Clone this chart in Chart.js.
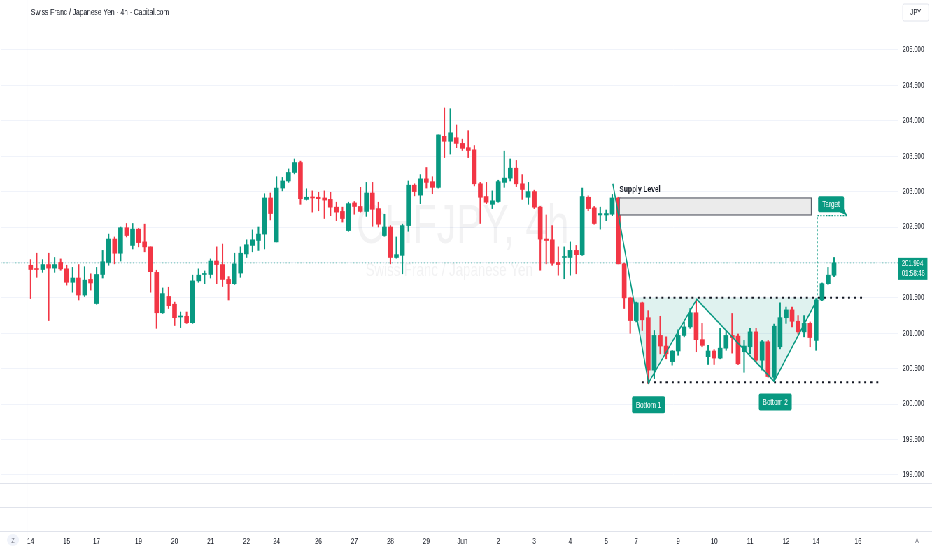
<!DOCTYPE html>
<html>
<head>
<meta charset="utf-8">
<script src="https://cdn.jsdelivr.net/npm/chart.js@4.4.1/dist/chart.umd.min.js"></script>
<style>
  html, body { margin: 0; padding: 0; background: #fff; overflow: hidden; }
  /* the screenshot is squeezed sideways, so the whole chart is drawn wide and scaled down */
  #wrap { width: 1332px; height: 550px; transform: scaleX(0.6997); transform-origin: 0 0; background: #fff; }
</style>
</head>
<body>
<div id="wrap"><canvas id="chart"></canvas></div>
<script>
// CHFJPY 4h candles
const open = [
  201.96,201.91,201.90,201.97,201.92,202.00,201.91,201.72,201.78,201.54,
  201.76,201.42,201.83,202.00,202.33,202.13,202.49,202.24,202.47,202.29,
  202.22,201.86,201.29,201.52,201.41,201.23,201.24,201.15,201.74,201.83,
  201.83,202.02,201.97,201.76,201.70,201.85,202.12,202.24,202.31,202.40,
  202.91,202.29,203.05,203.15,203.27,203.41,202.89,202.92,202.92,202.91,
  202.89,202.78,202.72,202.45,202.84,202.79,202.72,202.98,202.76,202.38,
  202.50,202.07,202.10,202.52,203.09,202.95,203.18,203.14,203.06,203.78,
  203.71,203.76,203.68,203.62,203.59,203.11,202.93,202.82,202.86,203.13,
  203.19,203.33,203.11,202.92,203.00,202.78,202.33,202.32,202.00,202.07,
  202.07,202.17,202.11,202.92,202.77,202.67,202.67,202.68,202.91,201.98,
  201.50,201.18,201.43,201.22,200.48,200.97,200.82,200.60,200.75,200.97,
  201.09,201.29,200.91,200.67,200.75,200.65,200.79,200.97,200.96,200.74,
  200.81,201.02,200.62,200.88,200.38,200.81,201.22,201.33,201.17,201.02,
  201.14,200.90,201.47,201.70,201.82
];
const high = [
  202.04,202.13,202.04,202.13,202.07,202.05,201.96,201.93,201.97,201.94,
  201.84,201.93,202.17,202.40,202.36,202.50,202.55,202.55,202.48,202.54,
  202.22,201.89,201.64,201.65,201.44,201.30,201.30,201.82,201.91,201.88,
  202.05,202.22,202.26,201.80,202.13,202.22,202.32,202.46,202.50,202.97,
  202.98,203.21,203.20,203.32,203.46,203.43,203.04,203.01,202.99,203.01,
  202.99,202.85,202.78,202.85,202.86,203.06,203.13,203.13,202.85,202.68,
  202.52,202.36,202.54,203.15,203.11,203.24,203.34,203.21,203.80,204.18,
  204.17,203.94,203.74,203.86,203.65,203.13,203.13,203.01,203.16,203.57,
  203.46,203.44,203.24,203.13,203.02,202.79,202.67,202.52,202.22,202.22,
  202.29,202.24,203.05,202.94,202.79,202.78,202.74,202.96,202.92,201.99,
  201.51,201.44,201.44,201.32,201.04,201.24,200.95,200.76,201.05,201.16,
  201.35,201.47,201.14,200.83,200.77,201.07,201.04,201.28,200.99,200.90,
  201.07,201.07,200.90,200.90,201.13,201.43,201.37,201.37,201.25,201.25,
  201.16,201.49,201.71,201.93,202.07
];
const low = [
  201.49,201.79,201.86,201.18,201.86,201.89,201.68,201.58,201.47,201.52,
  201.61,201.41,201.78,201.96,201.98,202.02,202.36,202.19,202.22,202.15,
  201.58,201.07,201.28,201.35,201.11,201.08,201.14,201.14,201.72,201.70,
  201.78,201.70,201.66,201.47,201.69,201.79,202.07,202.15,202.17,202.19,
  202.60,202.29,203.01,203.13,203.25,202.82,202.88,202.71,202.73,202.62,
  202.66,202.59,202.57,202.44,202.68,202.71,202.65,202.51,202.50,202.37,
  201.98,202.06,201.84,202.44,202.94,202.83,203.05,202.97,203.05,203.48,
  203.53,203.62,203.58,203.48,203.08,202.55,202.83,202.76,202.85,203.06,
  203.15,203.07,202.89,202.82,202.76,201.89,201.98,201.96,201.82,201.77,
  201.82,201.84,202.10,202.73,202.54,202.47,202.59,202.66,201.98,201.35,
  201.00,201.16,201.04,200.29,200.36,200.71,200.64,200.55,200.69,200.95,
  201.07,200.74,200.81,200.56,200.56,200.64,200.76,200.72,200.56,200.45,
  200.71,200.60,200.48,200.38,200.34,200.78,201.14,201.09,200.99,200.95,
  200.81,200.76,201.46,201.69,201.80
];
const close = [
  201.90,201.90,201.97,201.92,201.97,201.91,201.72,201.78,201.54,201.75,
  201.71,201.83,202.01,202.33,202.13,202.49,202.38,202.47,202.28,202.22,
  201.87,201.29,201.56,201.39,201.22,201.24,201.15,201.74,201.82,201.84,
  202.02,201.97,201.76,201.70,201.98,202.13,202.25,202.32,202.40,202.91,
  202.69,203.05,203.15,203.27,203.41,202.90,202.92,202.91,202.90,202.88,
  202.78,202.71,202.62,202.83,202.79,202.72,202.98,202.75,202.54,202.50,
  202.07,202.11,202.52,203.09,203.00,203.18,203.13,203.06,203.80,203.71,
  203.83,203.68,203.61,203.58,203.11,202.92,202.85,202.87,203.14,203.19,
  203.33,203.11,203.03,203.00,202.78,202.33,202.31,201.99,201.97,202.08,
  202.17,202.11,202.93,202.76,202.55,202.69,202.69,202.91,201.98,201.50,
  201.18,201.43,201.19,200.48,200.97,200.82,200.71,200.75,200.97,201.09,
  201.29,200.91,200.83,200.75,200.65,200.79,200.97,200.94,200.57,200.82,
  201.02,200.62,200.88,200.39,201.10,201.22,201.33,201.17,201.02,201.14,
  200.94,201.47,201.70,201.82,201.994
];

// time axis: candle index of each day label
const dayTickIdx = [0, 6, 11, 18, 24, 30, 36, 41, 48, 54, 60, 66, 72, 78, 84, 90, 96, 101, 108, 114, 120, 126, 131, 138];
const dayTickText = ['14','15','17','19','20','21','22','24','26','27','28','29','Jun','2','3','4','5','7','9','10','11','12','14','16'];
const priceTicks = [199, 199.5, 200, 200.5, 201, 201.5, 202, 202.5, 203, 203.5, 204, 204.5, 205];

// drawings on the chart (candle index, price)
const wPatternX = [97.1, 103.05, 111.1, 124.0, 131.2];
const wPatternY = [203.11, 200.30, 201.48, 200.32, 201.48];
const necklineX = [102.2, 139.2];
const necklinePrice = 201.50;
const bottomLineX = [101.9, 142.0];
const bottomLinePrice = 200.31;
const targetX = [131.2, 136.2];
const targetPrice = 202.66;
const supplyX = [98.2, 130.2];
const supplyPrice = [202.91, 202.67];
const supplyTextPrice = 203.035;
const labelText = ['Bottom 1', 'Bottom 2', 'Target'];
const labelX = [103.05, 124.2, 133.5];
const labelPrice = [199.99, 200.03, 202.82];

const S = 0.6997;
const UP = '#089981';
const DOWN = '#f23645';
const INK = '#131722';
const LINE = '#e0e3eb';
const FONT = "'Liberation Sans', Arial, sans-serif";
Chart.defaults.font.family = FONT;

const idx = open.map((_, i) => i);
const candleColor = idx.map(i => close[i] >= open[i] ? UP : DOWN);
const lastClose = close[close.length - 1];

// where the first leg of the W crosses the neckline, start of the shaded area
const k = (wPatternY[0] - wPatternY[2]) / (wPatternY[0] - wPatternY[1]);
const fillStartX = wPatternX[0] + k * (wPatternX[1] - wPatternX[0]);
const fillPts = [{ x: fillStartX, y: wPatternY[2] }].concat(
  wPatternX.slice(1).map((x, i) => ({ x: x, y: wPatternY[i + 1] })));

function noPad(s) {
  s.paddingLeft = 0; s.paddingRight = 0; s.paddingTop = 0; s.paddingBottom = 0;
}

const chrome = {
  id: 'chrome',
  beforeDraw(chart) {
    const { ctx, width, height } = chart;
    ctx.save();
    ctx.fillStyle = '#fff';
    ctx.fillRect(0, 0, width, height);
    ctx.restore();
  },
  beforeDatasetsDraw(chart) {
    const { ctx, chartArea: a } = chart;
    ctx.save();
    ctx.fillStyle = 'rgba(19,23,34,0.055)';
    ctx.textAlign = 'center';
    ctx.textBaseline = 'middle';
    ctx.font = '56px ' + FONT;
    ctx.fillText('CHFJPY, 4h', a.left + a.width * 0.515, 228);
    ctx.font = '19px ' + FONT;
    ctx.fillText('Swiss Franc / Japanese Yen', a.left + a.width * 0.5, 271);
    ctx.restore();
  },
  afterDatasetsDraw(chart) {
    const { ctx } = chart;
    const xs = chart.scales.x, ys = chart.scales.y;
    ctx.save();
    // supply zone
    const sx0 = xs.getPixelForValue(supplyX[0]), sx1 = xs.getPixelForValue(supplyX[1]);
    const sy0 = ys.getPixelForValue(supplyPrice[0]), sy1 = ys.getPixelForValue(supplyPrice[1]);
    ctx.fillStyle = '#ebebeb';
    ctx.fillRect(sx0, sy0, sx1 - sx0, sy1 - sy0);
    ctx.strokeStyle = '#5d606b';
    ctx.lineWidth = 1.2;
    ctx.strokeRect(sx0, sy0, sx1 - sx0, sy1 - sy0);
    ctx.fillStyle = INK;
    ctx.font = 'bold 9.5px ' + FONT;
    ctx.textAlign = 'left';
    ctx.textBaseline = 'middle';
    ctx.fillText('Supply Level', sx0, ys.getPixelForValue(supplyTextPrice));

    // green note labels
    labelText.forEach((t, i) => {
      const cx = xs.getPixelForValue(labelX[i]);
      const cy = ys.getPixelForValue(labelPrice[i]);
      const w = t === 'Target' ? 37 : 47;
      const h = t === 'Target' ? 16 : 17;
      ctx.fillStyle = UP;
      ctx.beginPath();
      ctx.roundRect(cx - w / 2, cy - h / 2, w, h, 2);
      ctx.fill();
      if (t === 'Target') {
        const tipX = xs.getPixelForValue(targetX[1]);
        const tipY = ys.getPixelForValue(targetPrice);
        ctx.beginPath();
        ctx.moveTo(cx + w / 2 - 6, cy + h / 2);
        ctx.lineTo(cx + w / 2, cy + h / 2 - 3);
        ctx.lineTo(tipX, tipY);
        ctx.closePath();
        ctx.fill();
      }
      ctx.fillStyle = '#fff';
      ctx.font = '9px ' + FONT;
      ctx.textAlign = 'center';
      ctx.fillText(t, cx, cy + 0.5);
    });
    ctx.restore();
  },
  afterDraw(chart) {
    const { ctx, chartArea: a, width, height } = chart;
    const ys = chart.scales.y;
    ctx.save();
    ctx.strokeStyle = LINE;
    ctx.lineWidth = 1;
    ctx.beginPath();
    [a.bottom, a.bottom + 24, a.bottom + 48].forEach(y => {
      ctx.moveTo(0, y + 0.5); ctx.lineTo(width, y + 0.5);
    });
    ctx.moveTo(a.right + 0.5, 0); ctx.lineTo(a.right + 0.5, height);
    ctx.moveTo(27 / S, 0); ctx.lineTo(27 / S, height);
    ctx.stroke();

    // title
    ctx.fillStyle = INK;
    ctx.font = '9.5px ' + FONT;
    ctx.textAlign = 'left';
    ctx.textBaseline = 'middle';
    ctx.fillText('Swiss Franc / Japanese Yen \u00b7 4h \u00b7 Capital.com', 31 / S, 12);

    // currency box
    ctx.strokeStyle = LINE;
    ctx.fillStyle = '#fff';
    ctx.beginPath();
    ctx.roundRect(a.right + 5 / S, 4, 26 / S, 17, 2);
    ctx.fill(); ctx.stroke();
    ctx.fillStyle = INK;
    ctx.font = '8.5px ' + FONT;
    ctx.textAlign = 'center';
    ctx.fillText('JPY', a.right + 18 / S, 12.5);

    // last price tag
    const py = ys.getPixelForValue(lastClose);
    ctx.fillStyle = UP;
    ctx.fillRect(a.right + 1, py - 5, 29 / S, 22);
    ctx.fillStyle = '#fff';
    ctx.font = '8.5px ' + FONT;
    ctx.textAlign = 'left';
    ctx.fillText(lastClose.toFixed(3), a.right + 4 / S, py + 1);
    ctx.fillText('01:58:46', a.right + 4 / S, py + 11);

    // corner buttons
    ctx.fillStyle = '#f0f3fa';
    ctx.beginPath();
    ctx.ellipse(13 / S, 540, 6 / S, 6, 0, 0, Math.PI * 2);
    ctx.fill();
    ctx.fillStyle = '#787b86';
    ctx.font = '7.5px ' + FONT;
    ctx.textAlign = 'center';
    ctx.fillText('Z', 13 / S, 540.5);
    ctx.fillText('A', 917 / S, 540.5);
    ctx.restore();
  }
};

const ctx = document.getElementById('chart').getContext('2d');
new Chart(ctx, {
  type: 'bar',
  data: {
    datasets: [
      {
        type: 'line',
        data: [{ x: -5, y: lastClose }, { x: 144.62, y: lastClose }],
        borderColor: 'rgba(8,153,129,0.55)',
        borderWidth: 1,
        borderDash: [1.4, 2.8],
        order: 6
      },
      {
        type: 'line',
        data: fillPts,
        borderWidth: 0,
        backgroundColor: 'rgba(8,153,129,0.13)',
        fill: { value: necklinePrice },
        order: 5
      },
      {
        data: idx.map(i => ({ x: i, y: [low[i], high[i]] })),
        backgroundColor: candleColor,
        barThickness: 1.4,
        grouped: false,
        order: 3
      },
      {
        data: idx.map(i => ({ x: i, y: [open[i], close[i]] })),
        backgroundColor: candleColor,
        barThickness: 6,
        minBarLength: 1,
        grouped: false,
        order: 2
      },
      {
        type: 'line',
        data: wPatternX.map((x, i) => ({ x: x, y: wPatternY[i] })),
        borderColor: UP,
        borderWidth: 1.6,
        order: 1
      },
      {
        type: 'line',
        data: necklineX.map(x => ({ x: x, y: necklinePrice })),
        borderColor: INK,
        borderWidth: 2,
        borderDash: [2.9, 5.7],
        order: 1
      },
      {
        type: 'line',
        data: bottomLineX.map(x => ({ x: x, y: bottomLinePrice })),
        borderColor: INK,
        borderWidth: 2,
        borderDash: [2.9, 5.7],
        order: 1
      },
      {
        type: 'line',
        data: [
          { x: targetX[0], y: wPatternY[wPatternY.length - 1] },
          { x: targetX[0], y: targetPrice },
          { x: targetX[1], y: targetPrice }
        ],
        borderColor: UP,
        borderWidth: 1.3,
        borderDash: [2, 2],
        order: 1
      }
    ]
  },
  options: {
    responsive: true,
    maintainAspectRatio: false,
    animation: false,
    events: [],
    layout: { padding: 0 },
    elements: { point: { radius: 0 }, line: { tension: 0 } },
    plugins: { legend: { display: false }, tooltip: { enabled: false } },
    scales: {
      x: {
        type: 'linear',
        min: -5,
        max: 144.62,
        offset: false,
        grid: { display: false, offset: false },
        border: { display: false },
        afterBuildTicks: s => { s.ticks = dayTickIdx.map(v => ({ value: v })); },
        afterFit: s => { s.height = 67; noPad(s); },
        ticks: {
          autoSkip: false,
          maxRotation: 0,
          padding: 45,
          color: INK,
          font: { size: 9 },
          callback: v => { const j = dayTickIdx.indexOf(v); return j < 0 ? '' : dayTickText[j]; }
        }
      },
      y: {
        position: 'right',
        min: 198.887,
        max: 205.690,
        beginAtZero: false,
        grid: { color: '#f0f3fa', drawTicks: false },
        border: { display: false },
        afterBuildTicks: s => { s.ticks = priceTicks.map(v => ({ value: v })); },
        afterFit: s => { s.width = 49; noPad(s); },
        ticks: {
          padding: 7,
          color: INK,
          font: { size: 8.5 },
          callback: v => v === 202 ? '' : v.toFixed(3)
        }
      }
    }
  },
  plugins: [chrome]
});
</script>
</body>
</html>
